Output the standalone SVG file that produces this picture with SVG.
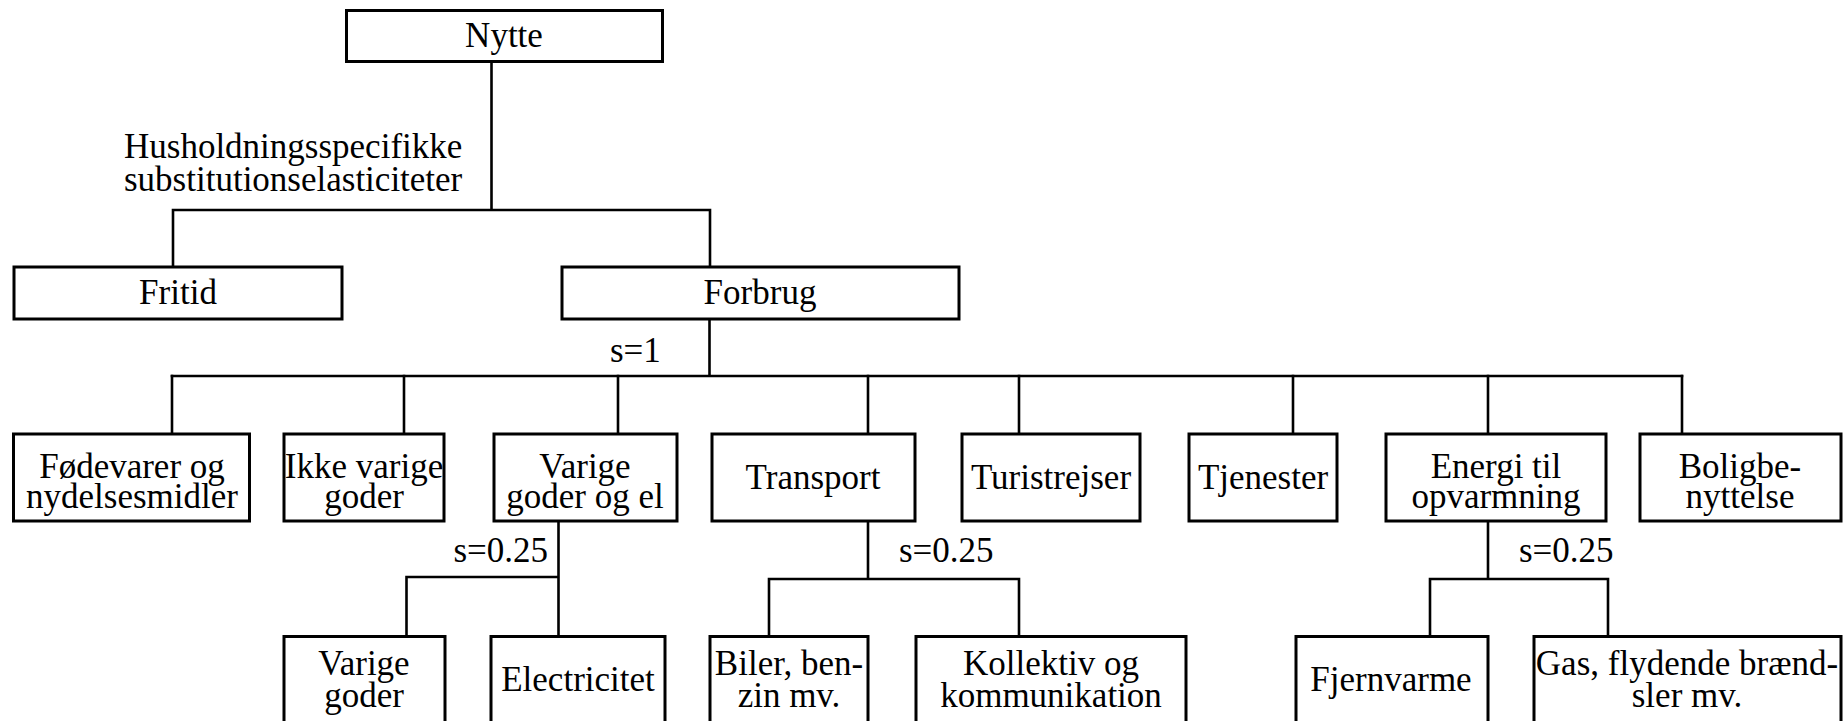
<svg xmlns="http://www.w3.org/2000/svg" width="1845" height="721" viewBox="0 0 1845 721">
  <style>
    .box { fill: #ffffff; stroke: #000000; stroke-width: 3; }
    .link { fill: none; stroke: #000000; stroke-width: 2.6; stroke-linecap: square; }
    text { font-family: "Liberation Serif", "Times New Roman", serif; font-size: 35px; fill: #000000; }
    .c { text-anchor: middle; }
  </style>
  <rect width="1845" height="721" fill="#ffffff"/>

  <!-- connectors -->
  <g id="connectors">
    <!-- Nytte -> Fritid / Forbrug -->
    <path class="link" d="M491.5 62 V210 M173 210 H710 M173 210 V266 M710 210 V266"/>
    <!-- Forbrug -> eight consumption groups -->
    <path class="link" d="M709.5 320 V376 M172 376 H1682"/>
    <path class="link" d="M172 376 V433 M404 376 V433 M618 376 V433 M868 376 V433 M1019 376 V433 M1293 376 V433 M1488 376 V433 M1682 376 V433"/>
    <!-- Varige goder og el -> Varige goder / Electricitet -->
    <path class="link" d="M558.5 521 V577 M406.5 577 H558.5 M406.5 577 V636 M558.5 577 V636"/>
    <!-- Transport -> Biler / Kollektiv -->
    <path class="link" d="M868 521 V579 M769 579 H1019 M769 579 V636 M1019 579 V636"/>
    <!-- Energi til opvarmning -> Fjernvarme / Gas -->
    <path class="link" d="M1488 521 V579 M1430 579 H1608 M1430 579 V636 M1608 579 V636"/>
  </g>

  <!-- edge labels -->
  <g id="labels">
    <text x="124" y="158">Husholdningsspecifikke</text>
    <text x="124" y="191">substitutionselasticiteter</text>
    <text x="610" y="362">s=1</text>
    <text x="548" y="562" text-anchor="end">s=0.25</text>
    <text x="899" y="562">s=0.25</text>
    <text x="1519" y="562">s=0.25</text>
  </g>

  <!-- level 0 -->
  <g id="nytte">
    <rect class="box" x="346.5" y="10.5" width="316" height="51"/>
    <text class="c" x="504" y="47">Nytte</text>
  </g>

  <!-- level 1 -->
  <g id="fritid">
    <rect class="box" x="14" y="267" width="328" height="52"/>
    <text class="c" x="178" y="304">Fritid</text>
  </g>
  <g id="forbrug">
    <rect class="box" x="562" y="267" width="397" height="52"/>
    <text class="c" x="760" y="304">Forbrug</text>
  </g>

  <!-- level 2 -->
  <g id="foedevarer">
    <rect class="box" x="13.5" y="434" width="236" height="87"/>
    <text class="c" x="132" y="478">Fødevarer og</text>
    <text class="c" x="132" y="508">nydelsesmidler</text>
  </g>
  <g id="ikke-varige">
    <rect class="box" x="284" y="434" width="160" height="87"/>
    <text class="c" x="364" y="478">Ikke varige</text>
    <text class="c" x="364" y="508">goder</text>
  </g>
  <g id="varige-el">
    <rect class="box" x="494" y="434" width="183" height="87"/>
    <text class="c" x="585" y="478">Varige</text>
    <text class="c" x="585" y="508">goder og el</text>
  </g>
  <g id="transport">
    <rect class="box" x="712" y="434" width="203" height="87"/>
    <text class="c" x="813" y="489">Transport</text>
  </g>
  <g id="turistrejser">
    <rect class="box" x="962" y="434" width="178" height="87"/>
    <text class="c" x="1051" y="489">Turistrejser</text>
  </g>
  <g id="tjenester">
    <rect class="box" x="1189" y="434" width="148" height="87"/>
    <text class="c" x="1263" y="489">Tjenester</text>
  </g>
  <g id="energi">
    <rect class="box" x="1386" y="434" width="220" height="87"/>
    <text class="c" x="1496" y="478">Energi til</text>
    <text class="c" x="1496" y="508">opvarmning</text>
  </g>
  <g id="bolig">
    <rect class="box" x="1640" y="434" width="201" height="87"/>
    <text class="c" x="1740" y="478">Boligbe-</text>
    <text class="c" x="1740" y="508">nyttelse</text>
  </g>

  <!-- level 3 (boxes run past the lower edge) -->
  <g id="varige-goder">
    <rect class="box" x="284" y="636.5" width="161" height="100"/>
    <text class="c" x="364" y="675">Varige</text>
    <text class="c" x="364" y="707">goder</text>
  </g>
  <g id="electricitet">
    <rect class="box" x="491" y="636.5" width="174" height="100"/>
    <text class="c" x="578" y="691">Electricitet</text>
  </g>
  <g id="biler">
    <rect class="box" x="710" y="636.5" width="158" height="100"/>
    <text class="c" x="789" y="675">Biler, ben-</text>
    <text class="c" x="789" y="707">zin mv.</text>
  </g>
  <g id="kollektiv">
    <rect class="box" x="916" y="636.5" width="270" height="100"/>
    <text class="c" x="1051" y="675">Kollektiv og</text>
    <text class="c" x="1051" y="707">kommunikation</text>
  </g>
  <g id="fjernvarme">
    <rect class="box" x="1296" y="636.5" width="192" height="100"/>
    <text class="c" x="1391" y="691">Fjernvarme</text>
  </g>
  <g id="gas">
    <rect class="box" x="1534" y="636.5" width="307" height="100"/>
    <text class="c" x="1687" y="675">Gas, flydende brænd-</text>
    <text class="c" x="1687" y="707">sler mv.</text>
  </g>
</svg>
